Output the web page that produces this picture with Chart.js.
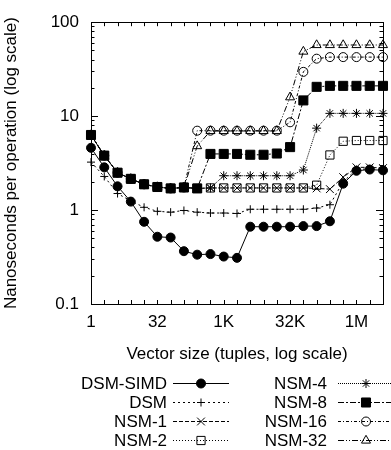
<!DOCTYPE html>
<html>
<head>
<meta charset="utf-8">
<script src="https://cdn.jsdelivr.net/npm/chart.js@4"></script>
<style>
  html, body { margin: 0; padding: 0; background: #fff; }
  #wrap { width: 391px; height: 450px; }
</style>
</head>
<body>
<div id="wrap"><canvas id="chart" width="391" height="450"></canvas></div>
<script>
// Vector sizes (tuples), one point per power of two
const vectorSizes = [1, 2, 4, 8, 16, 32, 64, 128, 256, 512, 1024, 2048, 4096, 8192,
    16384, 32768, 65536, 131072, 262144, 524288, 1048576, 2097152, 4194304];

// Nanoseconds per operation
const dsmSimd = [4.6, 2.85, 1.79, 1.23, 0.75, 0.52, 0.51, 0.365, 0.335, 0.34, 0.32, 0.31,
    0.665, 0.665, 0.665, 0.665, 0.675, 0.675, 0.76, 1.91, 2.62, 2.7, 2.65];
const dsm = [3.24, 2.28, 1.5, 1.25, 1.07, 0.97, 0.95, 0.99, 0.95, 0.93, 0.93, 0.92,
    1.02, 1.02, 1.02, 1.02, 1.02, 1.05, 1.14, 2.0, 2.7, 2.75, 2.7];
const nsm1 = [6.3, 3.8, 2.5, 2.15, 1.88, 1.76, 1.7, 1.74, 1.7, 1.72, 1.72, 1.72,
    1.72, 1.72, 1.72, 1.72, 1.72, 1.7, 1.67, 2.24, 2.85, 2.85, 2.8];
const nsm2 = [6.3, 3.8, 2.5, 2.15, 1.88, 1.76, 1.7, 1.74, 1.7, 1.72, 1.72, 1.72,
    1.72, 1.72, 1.72, 1.72, 1.72, 1.84, 3.86, 5.4, 5.5, 5.5, 5.5];
const nsm4 = [6.3, 3.8, 2.5, 2.15, 1.88, 1.76, 1.7, 1.74, 1.7, 1.72, 2.32, 2.32,
    2.32, 2.32, 2.32, 2.32, 2.67, 7.45, 10.7, 10.7, 10.7, 10.7, 10.7];
const nsm8 = [6.3, 3.8, 2.5, 2.15, 1.88, 1.76, 1.7, 1.74, 1.7, 3.96, 3.96, 3.96,
    3.88, 3.88, 4.0, 4.68, 14.7, 20.5, 21, 21, 21, 21, 21];
const nsm16 = [6.3, 3.8, 2.5, 2.15, 1.88, 1.76, 1.7, 1.74, 7.0, 7.0, 7.0, 7.0,
    7.0, 7.0, 7.0, 8.6, 29.6, 40.9, 42.5, 42.5, 42.5, 42.5, 42.5];
const nsm32 = [6.3, 3.8, 2.5, 2.15, 1.88, 1.76, 1.7, 1.74, 4.8, 6.95, 6.95, 6.95,
    6.95, 6.95, 6.95, 15.9, 48.7, 57.2, 57.2, 57.2, 57.2, 57.2, 57.2];

// Axis labels
const xLabelValues = [1, 32, 1024, 32768, 1048576];
const xLabelText = ['1', '32', '1K', '32K', '1M'];
const yLabelValues = [0.1, 1, 10, 100];
const yLabelText = ['0.1', '1', '10', '100'];

const FONT = '"Liberation Sans", Arial, sans-serif';
const HOLLOW = 'rgba(0,0,0,0)';

function series(label, values, style) {
    return Object.assign({
        label: label,
        data: vectorSizes.map((x, i) => ({ x: x, y: values[i] })),
        borderColor: '#000',
        borderWidth: 1,
        pointBorderColor: '#000',
        pointBorderWidth: 1,
        pointBackgroundColor: HOLLOW,
        tension: 0,
        clip: false
    }, style);
}

const datasets = [
    series('DSM-SIMD', dsmSimd, { borderDash: [], pointStyle: 'circle', pointRadius: 4.5, pointBackgroundColor: '#000' }),
    series('DSM', dsm, { borderDash: [2, 3], pointStyle: 'cross', pointRadius: 4 }),
    series('NSM-1', nsm1, { borderDash: [4, 2], pointStyle: 'crossRot', pointRadius: 5.5 }),
    series('NSM-2', nsm2, { borderDash: [1, 2], pointStyle: 'rect', pointRadius: 5.8 }),
    series('NSM-4', nsm4, { borderDash: [1, 1], pointStyle: 'star', pointRadius: 4.5 }),
    series('NSM-8', nsm8, { borderDash: [6, 2, 2, 2], pointStyle: 'rect', pointRadius: 6.4, pointBackgroundColor: '#000' }),
    series('NSM-16', nsm16, { borderDash: [3, 2, 1, 2], pointStyle: 'circle', pointRadius: 4.5 }),
    series('NSM-32', nsm32, { borderDash: [6, 2, 1, 2, 1, 2], pointStyle: 'triangle', pointRadius: 5.2 })
];

// Frame with inward tick marks on all four sides
const frameTicks = {
    id: 'frameTicks',
    beforeDatasetsDraw(chart) {
        const { ctx, chartArea: a, scales: { x, y } } = chart;
        ctx.save();
        ctx.strokeStyle = '#000';
        ctx.lineWidth = 1;
        ctx.setLineDash([]);
        ctx.beginPath();
        vectorSizes.forEach(v => {
            const px = Math.round(x.getPixelForValue(v)) + 0.5;
            ctx.moveTo(px, a.bottom); ctx.lineTo(px, a.bottom - 4);
            ctx.moveTo(px, a.top); ctx.lineTo(px, a.top + 4);
        });
        for (let d = 0.1; d < 100; d *= 10) {
            for (let k = 1; k <= 10; k++) {
                const py = Math.round(y.getPixelForValue(d * k)) + 0.5;
                const len = (k === 1 || k === 10) ? 7 : 3.5;
                ctx.moveTo(a.left, py); ctx.lineTo(a.left + len, py);
                ctx.moveTo(a.right, py); ctx.lineTo(a.right - len, py);
            }
        }
        ctx.stroke();
        ctx.strokeRect(Math.round(a.left) + 0.5, Math.round(a.top) + 0.5,
            Math.round(a.right - a.left), Math.round(a.bottom - a.top));
        ctx.restore();
    }
};

// Two-column key below the plot: label, line sample, marker
const keyBox = {
    id: 'keyBox',
    afterDraw(chart) {
        const { ctx } = chart;
        const rows = [383, 402, 421, 440];
        const textRight = [167, 327];
        const markX = [201, 366];
        const half = 28;
        ctx.save();
        ctx.font = '17px ' + FONT;
        ctx.textAlign = 'right';
        ctx.textBaseline = 'middle';
        chart.data.datasets.forEach((ds, i) => {
            const col = i < 4 ? 0 : 1;
            const yy = rows[i % 4];
            ctx.fillStyle = '#000';
            ctx.fillText(ds.label, textRight[col], yy + 1);
            ctx.strokeStyle = '#000';
            ctx.lineWidth = 1;
            ctx.setLineDash(ds.borderDash);
            ctx.beginPath();
            ctx.moveTo(markX[col] - half, yy + 0.5);
            ctx.lineTo(markX[col] + half, yy + 0.5);
            ctx.stroke();
            ctx.setLineDash([]);
            ctx.fillStyle = ds.pointBackgroundColor;
            Chart.helpers.drawPoint(ctx, {
                pointStyle: ds.pointStyle,
                radius: ds.pointRadius,
                rotation: 0,
                borderWidth: 1
            }, markX[col], yy + 0.5);
        });
        ctx.restore();
    }
};

new Chart(document.getElementById('chart'), {
    type: 'line',
    data: { datasets: datasets },
    options: {
        responsive: false,
        animation: false,
        layout: { padding: { left: 0, right: 5, top: 16, bottom: 0 } },
        plugins: {
            legend: { display: false },
            tooltip: { enabled: false }
        },
        scales: {
            x: {
                type: 'logarithmic',
                min: 1,
                max: 4194304,
                grid: { display: false, drawTicks: false },
                border: { display: false },
                afterBuildTicks: s => { s.ticks = vectorSizes.map(v => ({ value: v })); },
                afterFit: s => { s.height = 146; },
                ticks: {
                    autoSkip: false,
                    maxRotation: 0,
                    padding: 8,
                    color: '#000',
                    font: { family: FONT, size: 17 },
                    callback: v => {
                        const i = xLabelValues.indexOf(v);
                        return i < 0 ? '' : xLabelText[i];
                    }
                },
                title: {
                    display: true,
                    text: 'Vector size (tuples, log scale)',
                    color: '#000',
                    font: { family: FONT, size: 17 },
                    padding: { top: 0, bottom: 85 }
                }
            },
            y: {
                type: 'logarithmic',
                min: 0.1,
                max: 100,
                grid: { display: false, drawTicks: false },
                border: { display: false },
                afterBuildTicks: s => { s.ticks = yLabelValues.map(v => ({ value: v })); },
                afterFit: s => { s.width = 91; },
                ticks: {
                    autoSkip: false,
                    padding: 12,
                    color: '#000',
                    font: { family: FONT, size: 17 },
                    callback: v => {
                        const i = yLabelValues.findIndex(t => Math.abs(t - v) < t * 1e-6);
                        return i < 0 ? '' : yLabelText[i];
                    }
                },
                title: {
                    display: true,
                    text: 'Nanoseconds per operation (log scale)',
                    color: '#000',
                    font: { family: FONT, size: 17 },
                    padding: { top: 1, bottom: 0 }
                }
            }
        }
    },
    plugins: [frameTicks, keyBox]
});
</script>
</body>
</html>
